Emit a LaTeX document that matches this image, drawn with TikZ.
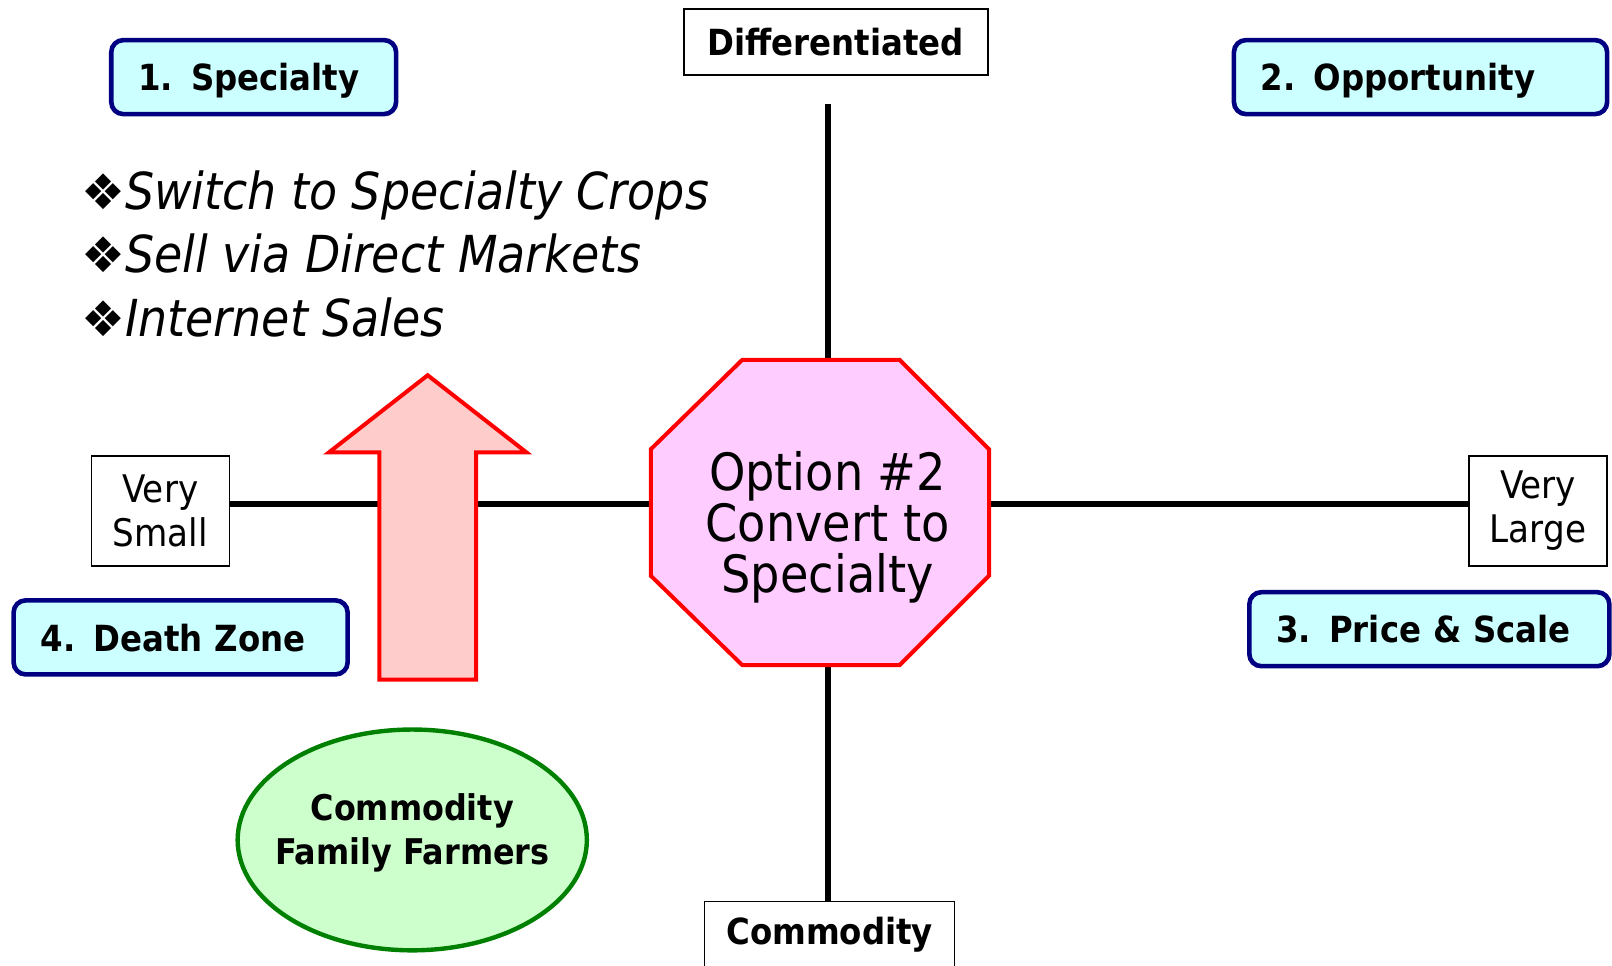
\documentclass[tikz,border=0pt]{standalone}
\usepackage{fontspec}
\setmainfont{DejaVu Sans Condensed}
\newfontfamily\dingfont{DejaVu Sans}
\usetikzlibrary{shapes.geometric}

\definecolor{quadcyan}{HTML}{CCFFFF}
\definecolor{quadnavy}{HTML}{000080}
\definecolor{octpink}{HTML}{FFCCFF}
\definecolor{arrowpink}{HTML}{FFCCCC}
\definecolor{farmfill}{HTML}{CCFFCC}
\definecolor{farmline}{HTML}{008000}

\newcommand{\fancybullet}{{\dingfont\fontsize{24.5}{24.5}\selectfont ❖}}

\tikzset{
  quadbox/.style={draw=quadnavy, line width=2.3pt, fill=quadcyan, rounded corners=6pt,
    minimum height=37pt, inner xsep=13.5pt, anchor=west, align=left, text depth=0pt,
    font=\bfseries\fontsize{18}{22}\selectfont},
  axisbox/.style={draw, line width=0.8pt, fill=white, minimum height=33pt, align=center,
    font=\bfseries\fontsize{18}{22}\selectfont},
  endbox/.style={draw, line width=0.8pt, fill=white, minimum width=69pt, minimum height=55pt,
    align=center, font=\fontsize{19}{22}\selectfont},
  axis/.style={line width=3pt},
}

\begin{document}
\begin{tikzpicture}[x=0.514pt,y=-0.514pt]

      \useasboundingbox (0,0) rectangle (1568,939);

      % the four corners
      \foreach \name/\x/\y/\w/\txt in {spec/106/75/115.4pt/1. Specialty,
                                      opp/1198/75/159.6pt/2. Opportunity,
                                      price/1213/612/153pt/3. Price \& Scale,
                                      death/11/620/140pt/4. Death Zone}
      \node[quadbox, text width=\w] (\name) at (\x,\y) {\txt};

      % ends of the two axes
      \node[axisbox, minimum width=152pt] (diff) at (813,41) {Differentiated};
      \node[axisbox, minimum width=125pt] (comm) at (807,909) {Commodity};
      \node[endbox] (small) at (156,497) {Very\\Small};
      \node[endbox] (large) at (1496,497) {Very\\Large};

      \coordinate (axtop) at (805,101);
      \coordinate (octN) at (805,350);
      \coordinate (octS) at (805,647);
      \coordinate (octW) at (633,490);
      \coordinate (octE) at (962,490);

      \draw[axis] (axtop) -- (octN); % y-axis
      \draw[axis] (octS) -- (comm.north -| octS);
      \draw[axis] (small.east |- octW) -- (octW); % x-axis
      \draw[axis] (octE) -- (large.west |- octE);

      % list of moves
      \node[anchor=west, align=left, font=\itshape\fontsize{25.5}{31.6}\selectfont] (moves) at (72,247)
        {\fancybullet Switch to Specialty Crops\\ \fancybullet Sell via Direct Markets\\ \fancybullet Internet Sales};

      \draw[red, line width=2pt, fill=arrowpink] (369,661) -- (369,440) -- (320,440) -- (416,365)
        -- (512,440) -- (463,440) -- (463,661) -- cycle; % up arrow

      \draw[red, line width=2pt, fill=octpink] (633,437) -- (722,350) -- (875,350) -- (962,437)
        -- (962,560) -- (875,647) -- (722,647) -- (633,560) -- cycle; % octagon
      \node[align=center, font=\fontsize{25.7}{25.7}\selectfont] (opt) at (805,513) {Option \#2\\Convert to\\Specialty};

      \node[ellipse, draw=farmline, line width=2.2pt, fill=farmfill, inner sep=0pt,
        minimum width=174.6pt, minimum height=110.4pt] (farm) at (401,817) {};
      \node[align=center, font=\bfseries\fontsize{17.7}{22}\selectfont] (farmlbl) at (401,810)
        {Commodity\\Family Farmers};

\end{tikzpicture}
\end{document}
